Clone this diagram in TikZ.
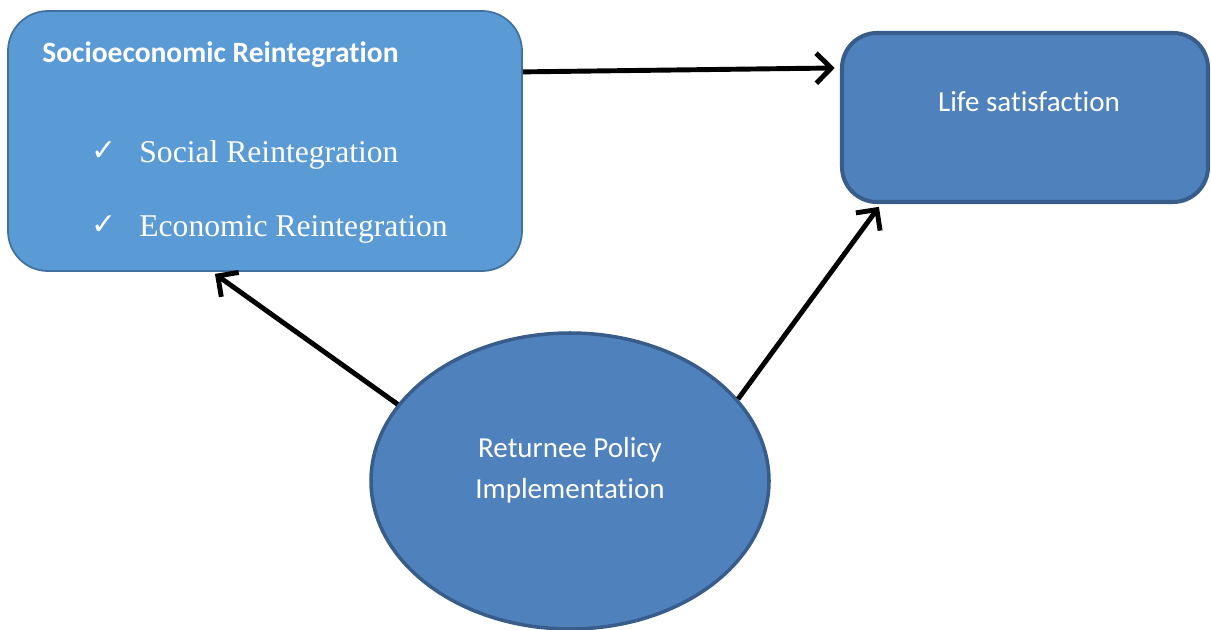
\documentclass[tikz,border=0pt]{standalone}
\usepackage{fontspec}
\setmainfont{Liberation Serif}
\newfontfamily\calibri[Ligatures=CommonOff]{Carlito}
\newfontfamily\checkfont{DejaVu Sans}
\usepackage{xcolor}
\definecolor{reintblue}{HTML}{5B9BD5}
\definecolor{reintedge}{HTML}{41719C}
\definecolor{officeblue}{HTML}{4F81BD}
\definecolor{officeedge}{HTML}{385D8A}
\usetikzlibrary{arrows.meta, shapes.geometric}

\begin{document}
\begin{tikzpicture}[
    link/.style={-{Straight Barb[length=3mm, width=6mm]}, line width=2.8pt},
    sanstext/.style={font=\calibri\fontsize{16.5}{20}\selectfont, text=white, inner sep=0pt},
    serittext/.style={font=\fontsize{18}{22}\selectfont, text=white, inner sep=0pt, anchor=base west},
    tick/.style={font=\checkfont\fontsize{17}{20}\selectfont, text=white, inner sep=0pt, anchor=base west}
  ]
  \useasboundingbox (0,0) rectangle (24.22,12.58);

  % Socioeconomic reintegration box
  \node[draw=reintedge, fill=reintblue, line width=1pt, rounded corners=0.8cm,
        minimum width=10.28cm, minimum height=5.2cm] (reint) at (5.30,9.76) {};
  \node[sanstext, font=\calibri\bfseries\fontsize{16.8}{20}\selectfont, anchor=base west] (reinttitle) at (0.84,11.33) {Socioeconomic Reintegration};
  \node[tick] (tick1) at (1.82,9.36) {✓};
  \node[serittext] (social) at (2.78,9.32) {Social Reintegration};
  \node[tick] (tick2) at (1.82,7.88) {✓};
  \node[serittext] (economic) at (2.78,7.84) {Economic Reintegration};

  % Life satisfaction box
  \node[draw=officeedge, fill=officeblue, line width=2.3pt, rounded corners=0.7cm,
        minimum width=7.32cm, minimum height=3.38cm] (life) at (20.5,10.23) {};
  \node[sanstext, anchor=base] (lifetext) at (20.58,10.34) {Life satisfaction};

  % Returnee policy ellipse
  \node[ellipse, draw=officeedge, fill=officeblue, line width=2pt, inner sep=0pt,
        minimum width=7.96cm, minimum height=5.92cm] (policy) at (11.40,2.96) {};
  \node[sanstext, anchor=base] (policy1) at (11.40,3.44) {Returnee Policy};
  \node[sanstext, anchor=base] (policy2) at (11.40,2.62) {Implementation};

  % Arrows
  \draw[link, shorten >=3pt] (reint.15) -- (life.165);
  \draw[link, shorten >=2pt] (policy.156) -- (reint.248);
  \draw[link, shorten >=2pt] (policy.26) -- (life.211);
\end{tikzpicture}
\end{document}
